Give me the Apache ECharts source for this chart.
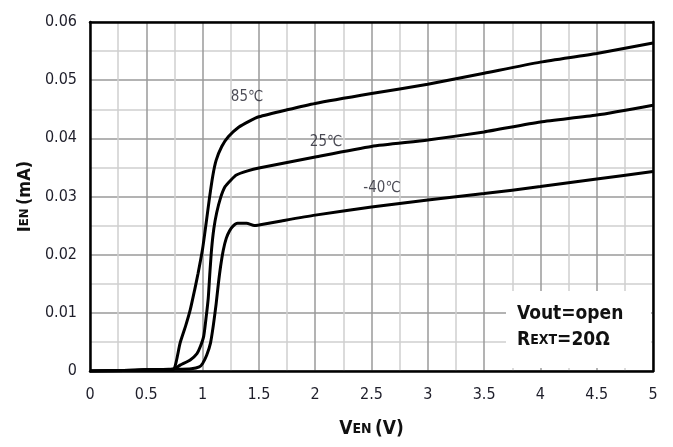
<!DOCTYPE html>
<html>
<head>
<meta charset="utf-8">
<script src="https://cdn.jsdelivr.net/npm/echarts@6/dist/echarts.min.js"></script>
<style>html,body{margin:0;padding:0;background:#fff}#c{width:673px;height:447px}</style>
</head>
<body>
<div id="c"></div>
<script>
// ---- data (V_EN in volts, I_EN in mA) ----
const curve85 = [[0,0],[0.3,0.0001],[0.5,0.0002],[0.7,0.0003],[0.75,0.0005],[0.8,0.0048],[0.85,0.0078],[0.89,0.0105],[0.93,0.014],[0.96,0.0168],[1.0,0.021],[1.03,0.0252],[1.06,0.0296],[1.09,0.0335],[1.12,0.0362],[1.17,0.0386],[1.23,0.0403],[1.32,0.0419],[1.42,0.0430],[1.5,0.0437],[1.75,0.0449],[2,0.046],[2.5,0.0477],[3,0.0493],[3.5,0.0512],[4,0.0531],[4.5,0.0546],[5,0.0564]];
const curve25 = [[0,0],[0.3,0.0001],[0.5,0.0002],[0.74,0.0003],[0.8,0.001],[0.89,0.0019],[0.95,0.003],[0.98,0.0042],[1.01,0.006],[1.03,0.009],[1.05,0.0125],[1.065,0.017],[1.08,0.021],[1.1,0.0245],[1.125,0.0272],[1.16,0.0298],[1.2,0.0317],[1.25,0.0328],[1.3,0.0337],[1.4,0.0344],[1.5,0.0349],[2,0.0368],[2.5,0.0386],[3,0.0397],[3.5,0.0411],[4,0.0428],[4.5,0.044],[5,0.0457]];
const curveM40 = [[0,0],[0.3,0.0001],[0.5,0.0002],[0.75,0.0003],[0.9,0.0004],[0.97,0.0007],[1.0,0.0013],[1.036,0.0027],[1.07,0.0048],[1.095,0.0078],[1.12,0.0115],[1.14,0.015],[1.16,0.018],[1.184,0.0208],[1.21,0.0228],[1.24,0.0241],[1.27,0.0249],[1.31,0.0254],[1.39,0.0254],[1.46,0.0250],[1.5,0.0251],[1.7,0.0258],[2,0.0268],[2.5,0.0282],[3,0.0294],[3.5,0.0305],[4,0.0317],[4.5,0.033],[5,0.0343]];
const curveLabels = [[1.394,0.0471,'85℃'],[2.096,0.0394,'25℃'],[2.593,0.0315,'-40℃']];
const xTicks = ['0','0.5','1','1.5','2','2.5','3','3.5','4','4.5','5'];
const yTicks = ['0','0.01','0.02','0.03','0.04','0.05','0.06'];
const noteLine1 = 'Vout=open';
const noteLine2 = ['R','EXT','=20Ω'];

const FN = '"Liberation Sans Narrow","DejaVu Sans Condensed",Arial,sans-serif';
const chart = echarts.init(document.getElementById('c'), null, {renderer:'canvas'});

const lineSeries = (d) => ({
  type:'line', data:d, showSymbol:false, smooth:0.2,
  lineStyle:{color:'#000', width:3}, z:5, silent:true
});

chart.setOption({
  animation:false,
  backgroundColor:'#fff',
  grid:{left:90, right:20, top:22, bottom:76, show:false},
  xAxis:[{
    type:'value', min:0, max:5, interval:0.5,
    axisLine:{show:true, onZero:false, lineStyle:{color:'#000', width:2.5}},
    axisTick:{show:false},
    axisLabel:{margin:16, fontFamily:FN, fontSize:16, color:'#1e1e2a',
      formatter:(v)=>{const i=Math.round(v/0.5);return xTicks[i]!==undefined?xTicks[i]:'';}},
    splitLine:{show:true, lineStyle:{color:'#9a9a9a', width:1.5}},
    minorTick:{show:false, splitNumber:2},
    minorSplitLine:{show:true, lineStyle:{color:'#cfcfcf', width:1.5}},
    name:'{a|V}{b|EN} {a|(V)}', nameLocation:'middle', nameGap:49,
    nameTextStyle:{rich:{a:{fontFamily:FN, fontWeight:'bold', fontSize:19, color:'#111'}, b:{fontFamily:FN, fontWeight:'bold', fontSize:14, color:'#111'}}}
  },{
    type:'value', position:'top', min:0, max:5, interval:0.5,
    axisLine:{show:true, onZero:false, lineStyle:{color:'#000', width:2.5}},
    axisTick:{show:false}, axisLabel:{show:false}, splitLine:{show:false}
  }],
  yAxis:[{
    type:'value', min:0, max:0.06, interval:0.01,
    axisLine:{show:true, onZero:false, lineStyle:{color:'#000', width:2.5}},
    axisTick:{show:false},
    axisLabel:{margin:13, fontFamily:FN, fontSize:16, color:'#1e1e2a',
      formatter:(v)=>{const i=Math.round(v/0.01);return yTicks[i]!==undefined?yTicks[i]:'';}},
    splitLine:{show:true, lineStyle:{color:'#9a9a9a', width:1.5}},
    minorTick:{show:false, splitNumber:2},
    minorSplitLine:{show:true, lineStyle:{color:'#cfcfcf', width:1.5}},
    name:'{a|I}{b|EN} {a|(mA)}', nameLocation:'middle', nameGap:55,
    nameTextStyle:{rich:{a:{fontFamily:FN, fontWeight:'bold', fontSize:18, color:'#111'}, b:{fontFamily:FN, fontWeight:'bold', fontSize:13, color:'#111'}}}
  },{
    type:'value', position:'right', min:0, max:0.06, interval:0.01,
    axisLine:{show:true, onZero:false, lineStyle:{color:'#000', width:2.5}},
    axisTick:{show:false}, axisLabel:{show:false}, splitLine:{show:false}
  }],
  graphic:[
    {type:'rect', left:506, top:291, z:10, shape:{width:145, height:77}, style:{fill:'#fff'}},
    {type:'text', left:517, top:305, z:11, style:{text:noteLine1, fontFamily:FN, fontWeight:'bold', fontSize:19, fill:'#111'}},
    {type:'text', left:517, top:331, z:11, style:{
      text:'{a|'+noteLine2[0]+'}{b|'+noteLine2[1]+'}{a|'+noteLine2[2]+'}',
      rich:{a:{fontFamily:FN, fontWeight:'bold', fontSize:19, fill:'#111'}, b:{fontFamily:FN, fontWeight:'bold', fontSize:14, fill:'#111'}}}}
  ],
  series:[
    lineSeries(curve85),
    lineSeries(curve25),
    lineSeries(curveM40),
    {type:'scatter', symbolSize:0, z:6, silent:true,
     data:curveLabels.map(d=>({value:[d[0],d[1]], name:d[2]})),
     label:{show:true, position:'inside', formatter:(p)=>p.name, fontFamily:FN, fontSize:15, color:'#1e1e2a'}}
  ]
});
</script>
</body>
</html>
